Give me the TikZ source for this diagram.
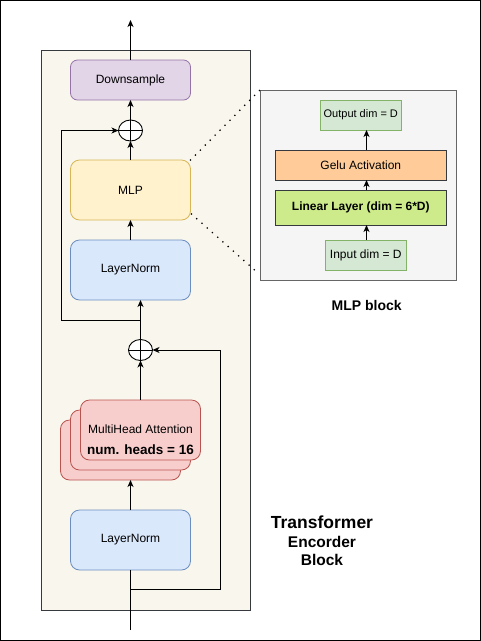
\documentclass[tikz,border=0pt]{standalone}
\usepackage{fontspec}
\setmainfont{Liberation Sans}
\usetikzlibrary{arrows.meta,calc,shapes.geometric}
\definecolor{mainfill}{HTML}{F9F7ED}
\definecolor{darkline}{HTML}{36393D}
\definecolor{dsfill}{HTML}{E1D5E7}
\definecolor{dsline}{HTML}{9673A6}
\definecolor{mlpfill}{HTML}{FFF2CC}
\definecolor{mlpline}{HTML}{D6B656}
\definecolor{lnfill}{HTML}{DAE8FC}
\definecolor{lnline}{HTML}{6C8EBF}
\definecolor{mhafill}{HTML}{F8CECC}
\definecolor{mhaline}{HTML}{B85450}
\definecolor{panelfill}{HTML}{F5F5F5}
\definecolor{panelline}{HTML}{666666}
\definecolor{grfill}{HTML}{D5E8D4}
\definecolor{grline}{HTML}{82B366}
\definecolor{gelufill}{HTML}{FFCC99}
\definecolor{linfill}{HTML}{CDEB8B}
\tikzset{
  fs/.style={font=\fontsize{#1}{#1}\selectfont},
  blk/.style={rectangle, inner sep=0pt, outer sep=0pt, line width=0.8pt, align=center},
  rbox/.style={blk, rounded corners=7pt, minimum width=120pt},
  arr/.style={line width=1pt, -{Stealth[length=7pt,width=6pt,inset=2pt]}},
  ln/.style={line width=1pt},
  dotline/.style={line width=1.8pt, line cap=round, dash pattern=on 0pt off 7pt},
  opl/.style={ellipse, draw=black, line width=0.9pt, minimum width=24pt, minimum height=21pt, inner sep=0pt, outer sep=0pt, fill=white},
}
\begin{document}
\begin{tikzpicture}[x=1pt,y=-1pt]
\useasboundingbox (0,0) rectangle (481,641);
\draw[line width=1.2pt] (0.6,0.6) rectangle (480.4,640.4);
% main container
\node[blk, draw=darkline, fill=mainfill, line width=1pt, minimum width=209pt, minimum height=560pt] (main) at (145.5,330) {};
% nodes
\node[rbox, fill=dsfill, draw=dsline, minimum height=40pt, fs=12] (ds) at (130.5,80) {Downsample};
\node[opl] (op1) at (130.5,130.5) {};
\draw[line width=0.9pt] (op1.north) -- (op1.south) (op1.west) -- (op1.east);
\node[rbox, fill=mlpfill, draw=mlpline, minimum height=60pt, rounded corners=9pt, fs=12] (mlp) at (130.5,190) {MLP};
\node[rbox, fill=lnfill, draw=lnline, minimum height=60pt, rounded corners=9pt, fs=12] (ln1) at (130.5,270) {LayerNorm};
\node[opl] (op2) at (140.5,350) {};
\draw[line width=0.9pt] (op2.north) -- (op2.south) (op2.west) -- (op2.east);
\node[rbox, fill=mhafill, draw=mhaline, minimum height=60pt, rounded corners=9pt] (mha3) at (120.5,450) {};
\node[rbox, fill=mhafill, draw=mhaline, minimum height=60pt, rounded corners=9pt] (mha2) at (130.5,440) {};
\node[rbox, fill=mhafill, draw=mhaline, minimum height=60pt, rounded corners=9pt] (mha1) at (140.5,430) {};
\node[fs=12, inner sep=0pt] (mhat1) at (140.5,429) {MultiHead Attention};
\node[inner sep=0pt, fs=13.5] (mhat2) at (140.5,450) {\bfseries num. heads = 16};
\node[rbox, fill=lnfill, draw=lnline, minimum height=60pt, rounded corners=9pt, fs=12] (ln2) at (130.5,540) {LayerNorm};
% connectors main
\coordinate (out) at (130.5,20);
\coordinate (in) at (130.5,630);
\coordinate (s1) at (140.5,320);
\coordinate (k1) at (61,320);
\coordinate (s2) at (130.5,589);
\coordinate (k2) at (220.7,589);
\draw[arr] (ds.north) -- (out);
\draw[arr] (op1.north) -- (ds.south);
\draw[arr] (mlp.north) -- (op1.south);
\draw[arr] (ln1.north) -- (mlp.south);
\draw[arr] (op2.north) -- (op2.north |- ln1.south);
\draw[arr] (s1) -- (k1) |- (op1.west);
\draw[arr] (mha1.north) -- (op2.south);
\draw[arr] (ln2.north) -- (ln2.north |- mha3.south);
\draw[ln] (in) -- (ln2.south);
\draw[arr] (s2) -- (k2) |- (op2.east);
% MLP block panel
\node[blk, draw=panelline, fill=panelfill, minimum width=196.7pt, minimum height=190pt] (panel) at (358.3,185) {};
\node[blk, fill=grfill, draw=grline, minimum width=81.7pt, minimum height=30pt, fs=11] (od) at (360.8,115) {Output dim = D};
\node[blk, fill=gelufill, draw=darkline, minimum width=171.7pt, minimum height=30pt, fs=12] (gelu) at (360.8,165) {Gelu Activation};
\node[blk, fill=linfill, draw=darkline, minimum width=171.7pt, minimum height=35pt, fs=12] (lin) at (360.8,207.5) {\bfseries Linear Layer (dim = 6*D)};
\node[blk, fill=grfill, draw=grline, minimum width=81.7pt, minimum height=30pt, fs=12] (id) at (365.8,255) {Input dim = D};
\coordinate (ax) at (366.5,0);
\draw[arr] (id.north -| ax) -- (lin.south -| ax);
\draw[arr] (lin.north -| ax) -- (gelu.south -| ax);
\draw[arr] (gelu.north -| ax) -- (od.south -| ax);
\node[inner sep=0pt, fs=14] (mlpb) at (366.7,305) {\bfseries MLP block};
% dotted connectors
\draw[dotline] (mlp.north east) -- (panel.north west);
\draw[dotline] ($(mlp.south east)+(1,-6)$) -- ($(panel.south west)+(-2,-7)$);
% title
\node[inner sep=0pt, fs=17.5] (t1) at (322,522) {\bfseries Transformer};
\node[inner sep=0pt, fs=15.5] (t2) at (322,541.5) {\bfseries Encorder};
\node[inner sep=0pt, fs=15.5] (t3) at (322,560) {\bfseries Block};
\end{tikzpicture}
\end{document}
